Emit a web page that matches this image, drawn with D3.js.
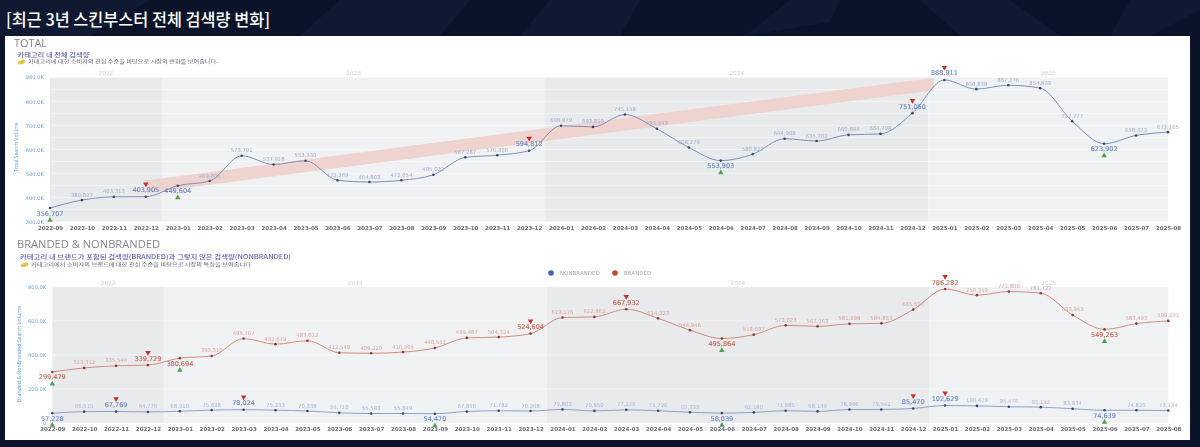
<!DOCTYPE html>
<html>
<head>
<meta charset="utf-8">
<script src="https://cdn.jsdelivr.net/npm/d3@7"></script>
<style>
  html, body { margin: 0; padding: 0; background: #0a1329; overflow: hidden; }
  svg { display: block; font-family: "Noto Sans CJK KR", "Noto Sans", sans-serif; }
</style>
</head>
<body>
<div id="chart"></div>
<script>
const months = [
  '2022-09','2022-10','2022-11','2022-12','2023-01','2023-02','2023-03','2023-04','2023-05','2023-06','2023-07','2023-08',
  '2023-09','2023-10','2023-11','2023-12','2024-01','2024-02','2024-03','2024-04','2024-05','2024-06','2024-07','2024-08',
  '2024-09','2024-10','2024-11','2024-12','2025-01','2025-02','2025-03','2025-04','2025-05','2025-06','2025-07','2025-08'
];

const total = [
  356707,389827,403313,403905,449604,469006,573791,537918,553330,472269,464803,472054,
  495022,567287,576336,594812,698979,693810,745158,685949,608279,553903,580827,644908,
  635302,660894,664798,751060,888911,850838,867276,854839,717777,623902,658373,672165
];
const branded = [
  299479,323312,335544,339729,380694,393310,495767,462679,483012,412549,409220,416205,
  440552,499487,504324,524604,619176,622862,667932,614223,544946,495864,518697,573023,
  567163,581998,584853,665590,786282,750359,771800,761727,633943,549263,583493,599231
];
const nonbranded = [
  57228,66515,67769,64776,68910,75698,78024,75233,70338,59710,55583,55849,
  54470,67850,71782,70208,79803,70950,77226,71726,63333,58039,62180,71885,
  68139,78996,79542,85470,102629,100479,95476,93112,83834,74639,74820,73134
];

// high / low flagged months per series
const totalHigh = ['2022-12','2023-12','2024-12','2025-01'];
const totalLow = ['2022-09','2023-01','2024-06','2025-06'];
const brandedHigh = ['2022-12','2023-12','2024-03','2025-01'];
const brandedLow = ['2022-09','2023-01','2024-06','2025-06'];
const nonbrandedHigh = ['2022-11','2023-03','2024-12','2025-01'];
const nonbrandedLow = ['2022-09','2023-09','2024-06','2025-06'];

const years = ['2022','2023','2024','2025'];
const totalTicks = [300000,400000,500000,600000,700000,800000,900000];
const totalMinorTicks = [350000,450000,550000,650000,750000,850000];
const splitTicks = [0,200000,400000,600000,800000];

// wide trend ribbon on the TOTAL chart
const trendMonths = ['2022-12','2025-01'];
const trendValues = [445000,878000];

const legendNames = ['NONBRANDED','BRANDED'];
const legendColors = ['#3f63b5','#c4472d'];

const labelFont = '"DejaVu Sans", sans-serif';
const width = 1200, height = 447;

const svg = d3.select('#chart').append('svg')
  .attr('width', width)
  .attr('height', height)
  .attr('viewBox', [0, 0, width, height]);

// soft blur, the reference is an upscaled screenshot
const defs = svg.append('defs');
defs.append('filter').attr('id', 'soft')
  .attr('x', '-2%').attr('y', '-2%').attr('width', '104%').attr('height', '104%')
  .append('feGaussianBlur').attr('stdDeviation', 0.33);

svg.append('rect').attr('width', width).attr('height', height).attr('fill', '#0a1329');

// faint facets in the dark header
[
  'M0,0L150,0L90,36L0,36Z', 'M340,0L470,0L440,36L300,36Z', 'M745,36L790,0L840,0L830,22Z',
  'M920,0L1010,0L1060,36L960,36Z', 'M1110,36L1130,0L1200,0L1200,10L1150,36Z', 'M550,0L640,0L620,36L520,36Z'
].forEach(d => svg.append('path').attr('d', d).attr('fill', '#121c36').attr('opacity', 0.75));

svg.append('text')
  .attr('x', 6).attr('y', 26)
  .attr('fill', '#ffffff')
  .attr('font-size', 17)
  .attr('font-weight', 500)
  .attr('textLength', 264).attr('lengthAdjust', 'spacingAndGlyphs')
  .text('[최근 3년 스킨부스터 전체 검색량 변화]');

const root = svg.append('g').attr('filter', 'url(#soft)');

root.append('rect').attr('x', 5).attr('y', 36).attr('width', 1185).attr('height', 404).attr('fill', '#ffffff');

function heading(title, tx, ty, sub, sx, sy, note, nx, ny, titleLen, subLen, noteLen) {
  root.append('text').attr('x', tx).attr('y', ty)
    .attr('font-family', '"Open Sans", sans-serif')
    .attr('font-size', 10).attr('fill', '#85878e')
    .attr('textLength', titleLen).attr('lengthAdjust', 'spacingAndGlyphs')
    .text(title);
  root.append('text').attr('x', sx).attr('y', sy)
    .attr('font-size', 6.2).attr('font-weight', 500).attr('fill', '#6062b4')
    .attr('textLength', subLen).attr('lengthAdjust', 'spacingAndGlyphs')
    .text(sub);
  root.append('path')
    .attr('d', `M${nx - 10},${ny - 1.5}l4,-2l3,0l0,3l-3,1.5l-4,0Z`)
    .attr('fill', '#f0c04a');
  root.append('text').attr('x', nx).attr('y', ny)
    .attr('font-size', 4.9).attr('fill', '#5f6274')
    .attr('textLength', noteLen).attr('lengthAdjust', 'spacingAndGlyphs')
    .text(note);
}

heading('TOTAL', 14, 46.5,
  '카테고리 내 전체 검색량', 17.5, 56.5,
  '카테고리에 대한 소비자의 관심 수준을 바탕으로 시장의 변화를 보여줍니다.', 28, 63.2,
  33, 72, 190);
heading('BRANDED & NONBRANDED', 17, 247.5,
  '카테고리 내 브랜드가 포함된 검색량(BRANDED)과 그렇지 않은 검색량(NONBRANDED)', 20, 259.3,
  '카테고리에서 소비자의 브랜드에 대한 관심 수준을 바탕으로 시장의 특징을 보여줍니다', 31, 266,
  143, 271, 220);

function drawPanel(cfg) {
  const x = d3.scalePoint().domain(months).range(cfg.xRange);
  const y = d3.scaleLinear().domain(cfg.yDomain).range(cfg.yRange);
  const step = x.step();
  const g = root.append('g');
  const top = cfg.yRange[1], bottom = cfg.yRange[0];

  // year bands, split half way between december and january
  years.forEach((yr, i) => {
    const inYear = months.filter(m => m.startsWith(yr));
    const x0 = i === 0 ? x(inYear[0]) : x(inYear[0]) - step / 2;
    const x1 = i === years.length - 1 ? x(inYear[inYear.length - 1]) : x(inYear[inYear.length - 1]) + step / 2;
    g.append('rect')
      .attr('x', x0).attr('y', top)
      .attr('width', x1 - x0).attr('height', bottom - top)
      .attr('fill', i % 2 === 0 ? '#e9eaec' : '#f0f1f3');
    g.append('text')
      .attr('x', (x0 + x1) / 2).attr('y', top - 2)
      .attr('text-anchor', 'middle')
      .attr('font-family', labelFont)
      .attr('font-size', 5.8).attr('fill', '#cfd0d3')
      .text(yr);
  });

  // gridlines
  g.append('g').selectAll('line')
    .data(cfg.ticks.concat(cfg.minorTicks || []))
    .join('line')
    .attr('x1', x.range()[0]).attr('x2', x.range()[1])
    .attr('y1', d => y(d)).attr('y2', d => y(d))
    .attr('stroke', '#ffffff').attr('stroke-width', 0.6).attr('opacity', 0.7);

  // axes
  const yAxis = d3.axisLeft(y)
    .tickValues(cfg.ticks)
    .tickSize(0)
    .tickPadding(cfg.tickPad)
    .tickFormat(d => d === 0 ? '0' : (d / 1000).toFixed(1) + 'K');
  g.append('g').attr('transform', `translate(${x.range()[0]},0)`).call(yAxis)
    .call(a => a.select('.domain').remove())
    .call(a => a.selectAll('text')
      .attr('font-family', labelFont)
      .attr('font-size', 5.2).attr('font-weight', 400)
      .attr('fill', '#6ba3d8'));

  const xAxis = d3.axisBottom(x).tickSize(0).tickPadding(0);
  g.append('g').attr('transform', `translate(0,${cfg.xLabelY - 5})`).call(xAxis)
    .call(a => a.select('.domain').remove())
    .call(a => a.selectAll('text')
      .attr('font-family', labelFont)
      .attr('font-size', 5.5).attr('font-weight', 700)
      .attr('fill', '#6a6c74'));

  g.append('text')
    .attr('transform', `translate(${cfg.titleX},${cfg.titleY}) rotate(-90)`)
    .attr('text-anchor', 'middle')
    .attr('font-family', '"Open Sans", sans-serif')
    .attr('font-size', cfg.titleSize).attr('fill', '#5b9ad6')
    .text(cfg.axisTitle);

  if (cfg.trend) {
    // ribbon stops just short of its last month
    defs.append('clipPath').attr('id', 'trendClip')
      .append('rect')
      .attr('x', 0).attr('y', 0)
      .attr('width', x(cfg.trend[cfg.trend.length - 1].m) - step / 3)
      .attr('height', height);
    g.append('path')
      .attr('d', d3.line().x(d => x(d.m)).y(d => y(d.v))(cfg.trend))
      .attr('clip-path', 'url(#trendClip)')
      .attr('fill', 'none')
      .attr('stroke', '#efd3cf').attr('stroke-width', 12.5);
  }

  cfg.series.forEach(s => drawSeries(g, s, x, y));
}

function drawSeries(g, s, x, y) {
  const rows = months.map((m, i) => ({ m, v: s.values[i] }));
  const line = d3.line().x(d => x(d.m)).y(d => y(d.v)).curve(d3.curveMonotoneX);
  const flagged = d => s.high.includes(d.m) || s.low.includes(d.m);

  g.append('path').attr('d', line(rows))
    .attr('fill', 'none').attr('stroke', s.line).attr('stroke-width', 1);

  g.append('g').selectAll('circle').data(rows).join('circle')
    .attr('cx', d => x(d.m)).attr('cy', d => y(d.v)).attr('r', 1.3)
    .attr('fill', s.dot);

  g.append('g').selectAll('text').data(rows).join('text')
    .attr('x', d => x(d.m))
    .attr('y', d => {
      if (s.high.includes(d.m)) return y(d.v) - 4.5;
      if (s.low.includes(d.m)) return y(d.v) + 7.5;
      return y(d.v) - 3.5;
    })
    .attr('text-anchor', 'middle')
    .attr('font-family', labelFont)
    .attr('font-size', d => flagged(d) ? 6.5 : 5.3)
    .attr('font-weight', 400)
    .attr('stroke', d => flagged(d) ? s.strong : 'none')
    .attr('stroke-width', 0.15)
    .attr('fill', d => flagged(d) ? s.strong : s.label)
    .text(d => d3.format(',')(d.v));

  const tri = d3.symbol().type(d3.symbolTriangle).size(13);
  g.append('g').selectAll('path').data(rows.filter(d => s.high.includes(d.m))).join('path')
    .attr('d', tri)
    .attr('transform', d => `translate(${x(d.m)},${y(d.v) - 12.5}) rotate(180)`)
    .attr('fill', '#c9302c');
  g.append('g').selectAll('path').data(rows.filter(d => s.low.includes(d.m))).join('path')
    .attr('d', tri)
    .attr('transform', d => `translate(${x(d.m)},${y(d.v) + 12})`)
    .attr('fill', '#4ea05a');
}

drawPanel({
  xRange: [50, 1168],
  yDomain: [300000, 900000],
  yRange: [221.7, 77.3],
  ticks: totalTicks,
  minorTicks: totalMinorTicks,
  tickPad: 6,
  xLabelY: 231.5,
  axisTitle: 'Total Search Volume',
  titleX: 18, titleY: 147, titleSize: 5.2,
  trend: trendMonths.map((m, i) => ({ m, v: trendValues[i] })),
  series: [{
    values: total, high: totalHigh, low: totalLow,
    line: '#7f90ba', dot: '#3c4a73', label: '#a3aecb', strong: '#6f88bf'
  }]
});

drawPanel({
  xRange: [52.3, 1168.3],
  yDomain: [0, 800000],
  yRange: [423, 286.7],
  ticks: splitTicks,
  tickPad: 6,
  xLabelY: 432.5,
  axisTitle: 'Branded & NonBranded Search Volume',
  titleX: 20.5, titleY: 354, titleSize: 5.2,
  series: [{
    values: branded, high: brandedHigh, low: brandedLow,
    line: '#d08e80', dot: '#8f3b2e', label: '#d6a89f', strong: '#c66a58'
  }, {
    values: nonbranded, high: nonbrandedHigh, low: nonbrandedLow,
    line: '#8fa0c8', dot: '#33497f', label: '#a9b6d4', strong: '#6f8dc9'
  }]
});

// legend
const legendX = d3.scaleOrdinal().domain(legendNames).range([551, 615]);
const legend = root.append('g').selectAll('g').data(legendNames).join('g')
  .attr('transform', d => `translate(${legendX(d)},273)`);
legend.append('circle').attr('r', 2.8).attr('fill', (d, i) => legendColors[i]);
legend.append('text')
  .attr('x', 9).attr('y', 2.1)
  .attr('font-family', labelFont)
  .attr('font-size', 5.5).attr('fill', '#a2a4ac')
  .text(d => d);
</script>
</body>
</html>
